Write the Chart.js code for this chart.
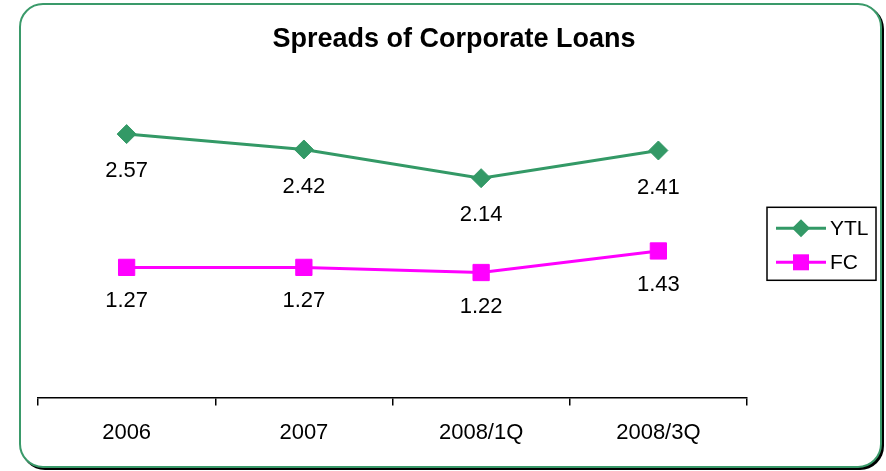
<!DOCTYPE html>
<html>
<head>
<meta charset="utf-8">
<script src="https://cdn.jsdelivr.net/npm/chart.js@4/dist/chart.umd.min.js"></script>
<style>
  html, body { margin: 0; padding: 0; background: #fff; }
  body { width: 886px; height: 471px; position: relative; overflow: hidden; }
  /* rounded green frame with a hard black shadow */
  #frame {
    position: absolute;
    left: 19px; top: 3px;
    width: 859px; height: 461px;
    border: 2px solid #3a9a6a;
    border-radius: 24px;
    box-shadow: 2px 2px 0 #000;
    background: #fff;
  }
  #chart { position: absolute; left: 0; top: 0; }
</style>
</head>
<body>
<div id="frame"></div>
<canvas id="chart" width="886" height="471"></canvas>
<script>
const chartTitle = 'Spreads of Corporate Loans';
const categories = ['2006', '2007', '2008/1Q', '2008/3Q'];
const ytlSpreads = [2.57, 2.42, 2.14, 2.41];
const fcSpreads = [1.27, 1.27, 1.22, 1.43];

const FONT = 'Arial, "Liberation Sans", sans-serif';
const GREEN = '#339966';
const MAGENTA = '#ff00ff';

// title centred on the whole frame, not just the plot
const frameTitle = {
  id: 'frameTitle',
  afterDraw(chart) {
    const ctx = chart.ctx;
    ctx.save();
    ctx.font = 'bold 27px ' + FONT;
    ctx.fillStyle = '#000';
    ctx.textAlign = 'center';
    ctx.textBaseline = 'middle';
    ctx.fillText(chartTitle, 454, 40);
    ctx.restore();
  }
};

// numbers under each point
const valueLabels = {
  id: 'valueLabels',
  afterDatasetsDraw(chart) {
    const ctx = chart.ctx;
    ctx.save();
    ctx.font = '22px ' + FONT;
    ctx.fillStyle = '#000';
    ctx.textAlign = 'center';
    ctx.textBaseline = 'middle';
    chart.data.datasets.forEach((ds, i) => {
      const gap = ds.pointStyle === 'rectRot' ? 37 : 34;
      chart.getDatasetMeta(i).data.forEach((pt, j) => {
        ctx.fillText(ds.data[j].toFixed(2), pt.x, pt.y + gap);
      });
    });
    ctx.restore();
  }
};

// boxed legend to the right, line + marker for each series
const sideLegend = {
  id: 'sideLegend',
  afterDraw(chart) {
    const ctx = chart.ctx;
    const area = chart.chartArea;
    const w = 109, h = 73;
    const x0 = area.right + 20;
    const y0 = (area.top + area.bottom) / 2 - h / 2;

    ctx.save();
    ctx.strokeStyle = '#000';
    ctx.lineWidth = 1.5;
    ctx.strokeRect(x0, y0, w, h);

    ctx.font = '21px ' + FONT;
    ctx.textAlign = 'left';
    ctx.textBaseline = 'middle';

    chart.data.datasets.forEach((ds, i) => {
      const y = y0 + 21 + i * 34;
      const mx = x0 + 34;
      ctx.strokeStyle = ds.borderColor;
      ctx.lineWidth = 3;
      ctx.beginPath();
      ctx.moveTo(x0 + 9, y);
      ctx.lineTo(x0 + 59, y);
      ctx.stroke();

      ctx.fillStyle = ds.backgroundColor;
      ctx.beginPath();
      if (ds.pointStyle === 'rectRot') {
        const r = 9;
        ctx.moveTo(mx, y - r);
        ctx.lineTo(mx + r, y);
        ctx.lineTo(mx, y + r);
        ctx.lineTo(mx - r, y);
        ctx.closePath();
      } else {
        ctx.rect(mx - 8, y - 8, 16, 16);
      }
      ctx.fill();

      ctx.fillStyle = '#000';
      ctx.fillText(ds.label, x0 + 63, y + 1);
    });
    ctx.restore();
  }
};

new Chart(document.getElementById('chart').getContext('2d'), {
  type: 'line',
  data: {
    labels: categories,
    datasets: [
      {
        label: 'YTL',
        data: ytlSpreads,
        borderColor: GREEN,
        backgroundColor: GREEN,
        borderWidth: 3,
        pointStyle: 'rectRot',
        pointRadius: 9.5,
        pointBorderWidth: 1,
        tension: 0,
        fill: false
      },
      {
        label: 'FC',
        data: fcSpreads,
        borderColor: MAGENTA,
        backgroundColor: MAGENTA,
        borderWidth: 3,
        pointStyle: 'rect',
        pointRadius: 11.5,
        pointBorderWidth: 1,
        tension: 0,
        fill: false
      }
    ]
  },
  options: {
    responsive: false,
    animation: false,
    events: [],
    layout: {
      padding: { left: 38, right: 139, top: 90, bottom: 11 }
    },
    plugins: {
      legend: { display: false },
      tooltip: { enabled: false },
      title: { display: false }
    },
    scales: {
      x: {
        offset: true,
        grid: {
          offset: true,
          drawOnChartArea: false,
          tickLength: 8,
          color: '#000',
          lineWidth: 1.5
        },
        border: { display: true, color: '#000', width: 1.5 },
        ticks: {
          color: '#000',
          padding: 14,
          font: { family: FONT, size: 22 }
        }
      },
      y: {
        display: false,
        min: 0,
        max: 3
      }
    }
  },
  plugins: [valueLabels, sideLegend, frameTitle]
});
</script>
</body>
</html>
